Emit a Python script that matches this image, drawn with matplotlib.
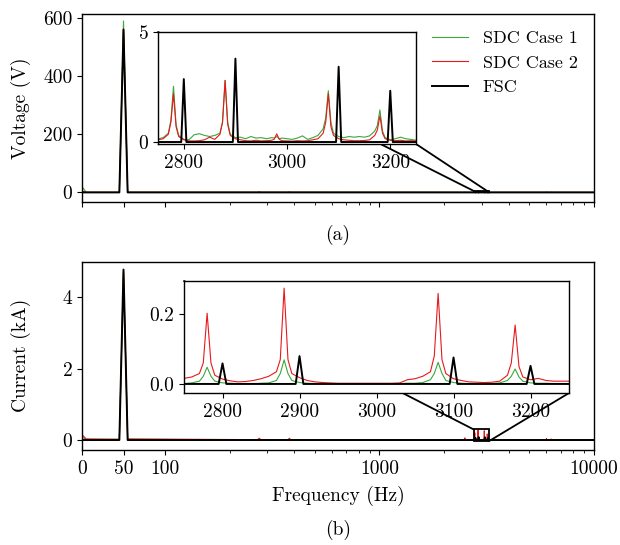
import matplotlib.pyplot as plt
from matplotlib.patches import ConnectionPatch, Rectangle

plt.rcParams['font.family'] = 'serif'
plt.rcParams['font.serif'] = ['cmr10', 'DejaVu Serif']
plt.rcParams['mathtext.fontset'] = 'cm'
plt.rcParams['axes.formatter.use_mathtext'] = True
plt.rcParams['font.size'] = 14
plt.rcParams['axes.linewidth'] = 1.0

GREEN = '#3aa83a'
RED = '#e8191b'
BLACK = 'black'

# ---------------- data ----------------
# low frequency part (Hz)
f_low = [0, 5, 45, 50, 55, 270, 275, 280, 375, 380, 385, 2495, 2500, 2505]
v_sdc1_low = [20, 0.5, 0.5, 590, 0.5, 0.5, 2, 0.5, 0.5, 1.5, 0.5, 0.3, 1.0, 0.3]
v_sdc2_low = [5, 0.3, 0.3, 565, 0.3, 0.3, 1.5, 0.3, 0.3, 1.2, 0.3, 0.1, 0.8, 0.1]
v_fsc_low = [0, 0, 0, 560, 0, 0, 0, 0, 0, 0, 0, 0, 0, 0]
i_sdc1_low = [0.08, 0.02, 0.02, 4.70, 0.02, 0.005, 0.01, 0.005, 0.005, 0.01, 0.005, 0.002, 0.01, 0.002]
i_sdc2_low = [0.15, 0.03, 0.02, 4.72, 0.03, 0.01, 0.05, 0.01, 0.01, 0.05, 0.01, 0.005, 0.06, 0.005]
i_fsc_low = [0, 0, 0, 4.78, 0, 0, 0, 0, 0, 0, 0, 0, 0, 0]

# zoomed band 2750-3250 Hz, SDC cases
f_zoom_sdc = [2750, 2760, 2770, 2775, 2780, 2785, 2790,
              2800, 2810, 2820, 2830, 2840, 2850, 2860, 2870,
              2875, 2880, 2885, 2890,
              2900, 2910, 2920, 2930, 2940, 2950, 2960, 2970,
              2975, 2980, 2985, 2990,
              3000, 3010, 3020, 3030, 3040, 3050, 3060, 3070,
              3075, 3080, 3085, 3090,
              3100, 3110, 3120, 3130, 3140, 3150, 3160, 3170,
              3175, 3180, 3185, 3190,
              3200, 3210, 3220, 3230, 3240, 3250]
v_sdc1_zoom = [0.14, 0.2, 0.4, 1.0, 2.53, 0.8, 0.3,
               0.12, 0.1, 0.33, 0.38, 0.3, 0.25, 0.3, 0.4,
               0.9, 2.8, 0.9, 0.35,
               0.2, 0.22, 0.15, 0.25, 0.18, 0.2, 0.15, 0.2,
               0.18, 0.25, 0.15, 0.18,
               0.15, 0.12, 0.18, 0.28, 0.12, 0.2, 0.3, 0.6,
               1.1, 2.33, 0.9, 0.4,
               0.25, 0.2, 0.25, 0.22, 0.25, 0.22, 0.28, 0.5,
               0.75, 1.46, 0.5, 0.2,
               0.1, 0.15, 0.22, 0.15, 0.12, 0.08]
v_sdc2_zoom = [0.1, 0.15, 0.35, 0.9, 2.19, 0.7, 0.25,
               0.1, 0.05, 0.05, 0.06, 0.1, 0.22, 0.12, 0.35,
               0.9, 2.8, 0.8, 0.3,
               0.15, 0.1, 0.06, 0.05, 0.08, 0.05, 0.06, 0.08,
               0.12, 0.37, 0.12, 0.06,
               0.05, 0.04, 0.06, 0.05, 0.06, 0.1, 0.15, 0.4,
               0.9, 2.19, 0.7, 0.3,
               0.15, 0.1, 0.08, 0.06, 0.06, 0.07, 0.1, 0.3,
               0.55, 1.19, 0.4, 0.15,
               0.08, 0.06, 0.08, 0.05, 0.06, 0.05]
i_sdc1_zoom = [0.001, 0.003, 0.008, 0.022, 0.048, 0.022, 0.008,
               0.003, 0.002, 0.001, 0.001, 0.001, 0.002, 0.003, 0.01,
               0.03, 0.069, 0.03, 0.01,
               0.004, 0.002, 0.001, 0.001, 0.001, 0.001, 0.001, 0.001,
               0.001, 0.001, 0.001, 0.001,
               0.001, 0.001, 0.001, 0.001, 0.002, 0.002, 0.004, 0.012,
               0.03, 0.062, 0.03, 0.01,
               0.004, 0.002, 0.001, 0.001, 0.001, 0.001, 0.003, 0.01,
               0.022, 0.043, 0.02, 0.008,
               0.003, 0.002, 0.002, 0.001, 0.001, 0.001]
i_sdc2_zoom = [0.016, 0.02, 0.03, 0.06, 0.203, 0.06, 0.025,
               0.014, 0.009, 0.006, 0.007, 0.01, 0.015, 0.022, 0.035,
               0.07, 0.275, 0.07, 0.03,
               0.018, 0.01, 0.006, 0.004, 0.003, 0.002, 0.002, 0.002,
               0.002, 0.002, 0.002, 0.002,
               0.002, 0.002, 0.002, 0.003, 0.012, 0.015, 0.022, 0.035,
               0.08, 0.26, 0.07, 0.03,
               0.015, 0.01, 0.006, 0.005, 0.004, 0.005, 0.008, 0.025,
               0.06, 0.169, 0.05, 0.02,
               0.012, 0.016, 0.01, 0.008, 0.008, 0.008]

# zoomed band, FSC
f_zoom_fsc = [2750, 2795, 2800, 2805, 2895, 2900, 2905,
              3095, 3100, 3105, 3195, 3200, 3205, 3250]
v_fsc_zoom = [0, 0, 2.86, 0, 0, 3.79, 0, 0, 3.42, 0, 0, 2.33, 0, 0]
i_fsc_zoom = [0, 0, 0.059, 0, 0, 0.080, 0, 0, 0.076, 0, 0, 0.052, 0, 0]

# high frequency part
f_high = [3300, 6000, 6005, 6010, 6300, 6305, 6310, 10000]
v_sdc1_high = [0.2, 0.2, 1.0, 0.2, 0.2, 1.0, 0.2, 0.2]
v_sdc2_high = [0.1, 0.1, 0.6, 0.1, 0.1, 0.6, 0.1, 0.1]
v_fsc_high = [0, 0, 0, 0, 0, 0, 0, 0]
i_sdc1_high = [0.002, 0.002, 0.01, 0.002, 0.002, 0.01, 0.002, 0.002]
i_sdc2_high = [0.008, 0.005, 0.04, 0.005, 0.005, 0.03, 0.005, 0.005]
i_fsc_high = [0, 0, 0, 0, 0, 0, 0, 0]

zoom_xlim = (2750, 3250)
labels = ['SDC Case 1', 'SDC Case 2', 'FSC']

# ---------------- figure ----------------
fig = plt.figure(figsize=(6.2, 5.45), dpi=100)
ax_v = fig.add_axes([0.1323, 0.6299, 0.8258, 0.3444])
ax_i = fig.add_axes([0.1323, 0.1743, 0.8258, 0.3455], sharex=ax_v)


def panel(ax, low, zoom, high, ylim, yticks, ylabel, inset_rect, inset_ylim,
          inset_xticks, inset_yticks, inset_yticklabels):
    f_sdc = f_low + f_zoom_sdc + f_high
    f_fsc = f_low + f_zoom_fsc + f_high
    full = [low[k] + zoom[k] + high[k] for k in range(3)]
    ax.plot(f_sdc, full[0], color=GREEN, lw=0.8, label=labels[0])
    ax.plot(f_sdc, full[1], color=RED, lw=0.8, label=labels[1])
    ax.plot(f_fsc, full[2], color=BLACK, lw=1.4, label=labels[2])
    ax.set_xscale('symlog', linthresh=100, linscale=0.348)
    ax.set_xlim(0, 10000)
    ax.set_ylim(*ylim)
    ax.set_yticks(yticks)
    ax.set_yticklabels([str(t) for t in yticks])
    ax.set_ylabel(ylabel)
    ax.yaxis.set_label_coords(-0.10, 0.5)

    axins = ax.inset_axes(inset_rect)
    axins.plot(f_zoom_sdc, zoom[0], color=GREEN, lw=0.8)
    axins.plot(f_zoom_sdc, zoom[1], color=RED, lw=0.8)
    axins.plot(f_zoom_fsc, zoom[2], color=BLACK, lw=1.4)
    axins.set_xlim(*zoom_xlim)
    axins.set_ylim(*inset_ylim)
    axins.set_xticks(inset_xticks)
    axins.set_xticklabels([str(t) for t in inset_xticks])
    axins.set_yticks(inset_yticks)
    axins.set_yticklabels(inset_yticklabels)

    # zoom box and connectors (drawn under the inset)
    y0, y1 = inset_ylim
    ax.add_patch(Rectangle((zoom_xlim[0], y0), zoom_xlim[1] - zoom_xlim[0], y1 - y0,
                           fill=False, ec='black', lw=1.3, zorder=3))
    for a, b in [((0, 1), (zoom_xlim[0], y1)), ((1, 0), (zoom_xlim[1], y0))]:
        con = ConnectionPatch(xyA=a, coordsA=axins.transAxes, xyB=b, coordsB=ax.transData,
                              color='black', lw=1.3, zorder=3)
        ax.add_artist(con)
    return axins


panel(ax_v, (v_sdc1_low, v_sdc2_low, v_fsc_low),
      (v_sdc1_zoom, v_sdc2_zoom, v_fsc_zoom),
      (v_sdc1_high, v_sdc2_high, v_fsc_high),
      (-32, 614), [0, 200, 400, 600], 'Voltage (V)',
      [0.1484, 0.3074, 0.504, 0.5967], (-0.09, 5.0),
      [2800, 3000, 3200], [0, 5], ['0', '5'])

panel(ax_i, (i_sdc1_low, i_sdc2_low, i_fsc_low),
      (i_sdc1_zoom, i_sdc2_zoom, i_fsc_zoom),
      (i_sdc1_high, i_sdc2_high, i_fsc_high),
      (-0.28, 5.0), [0, 2, 4], 'Current (kA)',
      [0.1992, 0.3027, 0.752, 0.5948], (-0.026, 0.2955),
      [2800, 2900, 3000, 3100, 3200], [0.0, 0.2], ['0.0', '0.2'])

xt = [0, 50, 100, 1000, 10000]
ax_i.set_xticks(xt)
ax_i.set_xticklabels([str(t) for t in xt])
ax_i.set_xticks([200, 300, 400, 500, 600, 700, 800, 900,
                 2000, 3000, 4000, 5000, 6000, 7000, 8000, 9000], minor=True)
ax_i.xaxis.set_minor_formatter(plt.NullFormatter())
ax_v.tick_params(axis='x', which='both', labelbottom=False)
ax_i.set_xlabel('Frequency (Hz)', labelpad=6)

ax_v.legend(loc='upper right', frameon=False, fontsize=13)

fig.text(0.545, 0.569, '(a)', ha='center', va='center')
fig.text(0.545, 0.0275, '(b)', ha='center', va='center')

fig.savefig('out.png', dpi=100)
